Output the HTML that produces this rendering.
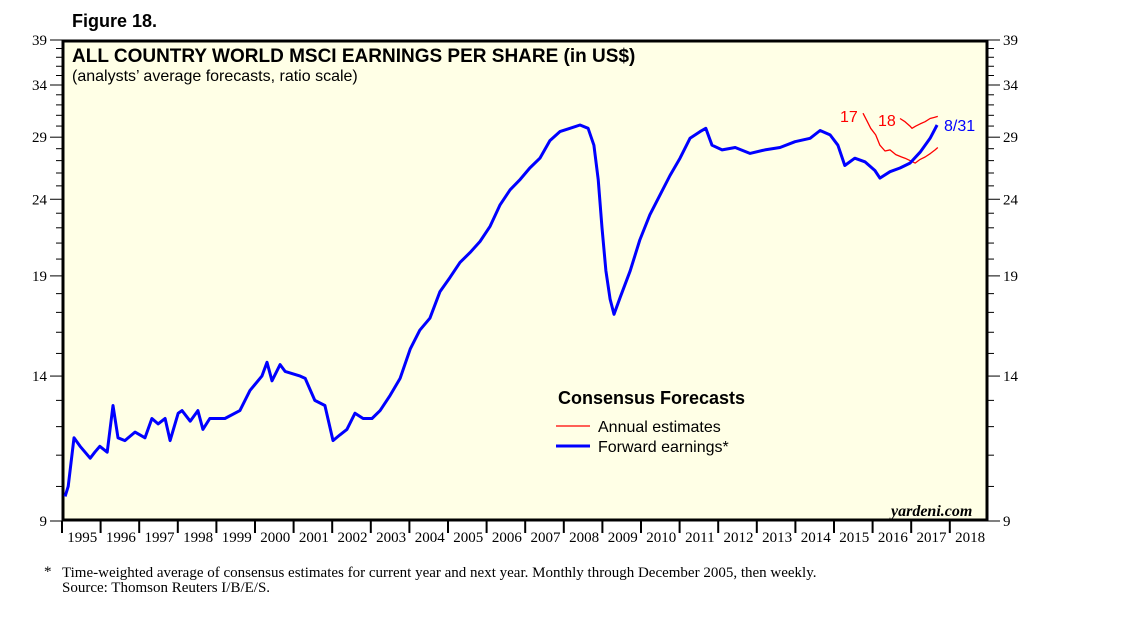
<!DOCTYPE html>
<html><head><meta charset="utf-8"><style>
body{margin:0;background:#fff;width:1138px;height:621px;overflow:hidden}
svg text{font-family:"Liberation Serif",serif}
</style></head><body>
<svg width="1138" height="621">
<text x="72" y="27" font-size="18" font-weight="bold" style="font-family:'Liberation Sans',sans-serif">Figure 18.</text>
<rect x="63" y="41" width="924" height="479" fill="#ffffe6" stroke="#000" stroke-width="3"/>
<text x="72" y="62" font-size="19" font-weight="bold" style="font-family:'Liberation Sans',sans-serif">ALL COUNTRY WORLD MSCI EARNINGS PER SHARE (in US$)</text>
<text x="72" y="81" font-size="16" style="font-family:'Liberation Sans',sans-serif">(analysts’ average forecasts, ratio scale)</text>
<g id="axes"></g>
<g id="series"></g>
<text x="558" y="404" font-size="18" font-weight="bold" style="font-family:'Liberation Sans',sans-serif">Consensus Forecasts</text>
<line x1="556" y1="426" x2="590" y2="426" stroke="#f00" stroke-width="1.2"/>
<text x="598" y="432" font-size="16" style="font-family:'Liberation Sans',sans-serif">Annual estimates</text>
<line x1="556" y1="446" x2="590" y2="446" stroke="#0000ff" stroke-width="3"/>
<text x="598" y="452" font-size="16" style="font-family:'Liberation Sans',sans-serif">Forward earnings*</text>
<text x="840" y="122" font-size="16" fill="#f00" style="font-family:'Liberation Sans',sans-serif">17</text>
<text x="878" y="126" font-size="16" fill="#f00" style="font-family:'Liberation Sans',sans-serif">18</text>
<text x="944" y="131" font-size="16" fill="#0000ff" style="font-family:'Liberation Sans',sans-serif">8/31</text>
<text x="891" y="516" font-size="16" font-weight="bold" font-style="italic">yardeni.com</text>
<text x="44" y="576" font-size="15">*</text>
<text x="62" y="577" font-size="15">Time-weighted average of consensus estimates for current year and next year. Monthly through December 2005, then weekly.</text>
<text x="62" y="592" font-size="15">Source: Thomson Reuters I/B/E/S.</text>
</svg>
<script>
const yTicks=[9,14,19,24,29,34,39];
const years=["1995","1996","1997","1998","1999","2000","2001","2002","2003","2004","2005","2006","2007","2008","2009","2010","2011","2012","2013","2014","2015","2016","2017","2018"];
const fwdT=[0.08,0.16,0.31,0.47,0.73,0.85,0.98,1.17,1.32,1.45,1.63,1.89,2.15,2.33,2.49,2.67,2.80,3.01,3.11,3.32,3.52,3.65,3.83,4.22,4.61,4.87,5.18,5.31,5.44,5.65,5.78,6.17,6.30,6.55,6.81,7.02,7.20,7.38,7.59,7.80,8.03,8.24,8.50,8.76,9.02,9.27,9.53,9.79,10.05,10.31,10.57,10.83,11.09,11.35,11.61,11.87,12.12,12.38,12.64,12.90,13.16,13.42,13.63,13.78,13.89,13.99,14.09,14.20,14.30,14.46,14.72,14.97,15.23,15.49,15.75,16.01,16.27,16.53,16.68,16.84,17.10,17.44,17.82,18.21,18.60,18.99,19.38,19.64,19.90,20.10,20.28,20.54,20.80,21.06,21.19,21.45,21.71,21.97,22.23,22.49,22.67];
const fwdV=[9.7,10.0,11.6,11.3,10.9,11.1,11.3,11.1,12.8,11.6,11.5,11.8,11.6,12.3,12.1,12.3,11.5,12.5,12.6,12.2,12.6,11.9,12.3,12.3,12.6,13.4,14.0,14.6,13.8,14.5,14.2,14.0,13.9,13.0,12.8,11.5,11.7,11.9,12.5,12.3,12.3,12.6,13.2,13.9,15.2,16.1,16.7,18.1,18.9,19.8,20.4,21.1,22.1,23.6,24.7,25.5,26.4,27.2,28.7,29.5,29.8,30.1,29.8,28.3,25.5,22.0,19.3,17.7,16.9,17.8,19.3,21.2,22.9,24.3,25.8,27.2,28.9,29.5,29.8,28.3,27.9,28.1,27.6,27.9,28.1,28.6,28.9,29.6,29.2,28.3,26.6,27.2,26.9,26.2,25.6,26.1,26.4,26.8,27.7,28.9,30.1];
const a17T=[20.75,20.85,20.95,21.08,21.19,21.32,21.45,21.6,21.75,21.84,21.97,22.10,22.23,22.36,22.5,22.62,22.69];
const a17V=[31.2,30.5,29.8,29.2,28.3,27.8,27.9,27.5,27.3,27.2,27.0,26.8,27.1,27.3,27.6,27.9,28.1];
const a18T=[21.71,21.84,21.97,22.02,22.12,22.23,22.36,22.49,22.6,22.69];
const a18V=[30.7,30.4,30.0,29.8,30.0,30.2,30.4,30.7,30.8,30.9];
const X0=62,YW=38.6,Y0=40,YB=521;
const lnMax=Math.log(39),lnMin=Math.log(9);
function xs(t){return X0+t*YW;}
function ys(v){return Y0+(lnMax-Math.log(v))/(lnMax-lnMin)*(YB-Y0);}
const NS="http://www.w3.org/2000/svg";
const ax=document.getElementById('axes'),se=document.getElementById('series');
function mk(tag,at,par){const e=document.createElementNS(NS,tag);for(const k in at)e.setAttribute(k,at[k]);par.appendChild(e);return e;}
for(let v=9;v<=39;v++){
  const y=ys(v),big=yTicks.includes(v);
  const l=mk('line',{x1:big?50:56,y1:y,x2:62,y2:y,stroke:'#000','stroke-width':1},ax);
  
  
  const r=mk('line',{x1:988,y1:y,x2:big?1000:994,y2:y,stroke:'#000','stroke-width':1},ax);
  
  
}
yTicks.forEach(v=>{
  const t=mk('text',{x:47,y:ys(v)+5,'text-anchor':'end','font-size':15},ax);t.textContent=v;
  
  
  const t2=mk('text',{x:1003,y:ys(v)+5,'font-size':15},ax);t2.textContent=v;
  
  
});
years.forEach((yr,i)=>{
  const tk=mk('line',{x1:xs(i),y1:521,x2:xs(i),y2:533,stroke:'#000','stroke-width':2},ax);
  
  
  const t=mk('text',{x:xs(i+0.5)+1,y:542,'text-anchor':'middle','font-size':15},ax);t.textContent=yr;
  
  
});
function path(T,V,col,w,name){
  const d=T.map((t,i)=>(i?'L':'M')+xs(t).toFixed(1)+','+ys(V[i]).toFixed(1)).join(' ');
  const p=mk('path',{d:d,fill:'none',stroke:col,'stroke-width':w,'stroke-linejoin':'round'},se);
  
  
}
path(a17T,a17V,'#f00',1.3,'annual-estimates-2017-line');
path(a18T,a18V,'#f00',1.3,'annual-estimates-2018-line');
path(fwdT,fwdV,'#0000ff',3,'forward-earnings-line');
</script>
</body></html>
